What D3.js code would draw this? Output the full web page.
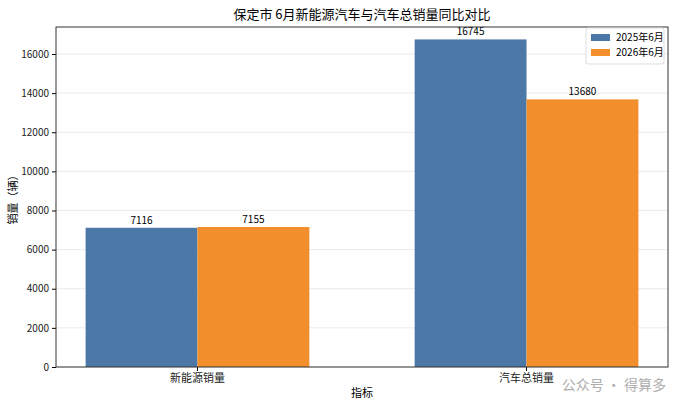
<!DOCTYPE html><html><head><meta charset="utf-8"><script src="https://cdn.jsdelivr.net/npm/d3@7"></script>
<style>body{margin:0;background:#fff}text{font-family:"Noto Sans CJK SC","DejaVu Sans",sans-serif}</style></head><body>
<svg id="c" width="680" height="405"></svg>
<script>
const categories=["新能源销量","汽车总销量"];
const series=["2025年6月","2026年6月"];
const values2025=[7116,16745];
const values2026=[7155,13680];
const yTicks=[0,2000,4000,6000,8000,10000,12000,14000,16000];
const colors=["#4c78a8","#f28e2b"];
const svg=d3.select("#c");
const m={l:56,r:668,t:27,b:367};
const x=d3.scaleBand().domain(categories).range([m.l,m.r]).paddingInner(0.32).paddingOuter(0.09);
const xs=d3.scaleBand().domain(series).range([0,x.bandwidth()]);
const y=d3.scaleLinear().domain([0,17380]).range([m.b,m.t]);
svg.append("g").selectAll("line").data(yTicks).join("line").attr("x1",m.l).attr("x2",m.r).attr("y1",d=>y(d)).attr("y2",d=>y(d)).attr("stroke","#ebebeb");
const data=[values2025,values2026];
series.forEach((s,i)=>{
 const g=svg.append("g");
 g.selectAll("rect").data(categories).join("rect").attr("x",c=>x(c)+xs(s)).attr("width",xs.bandwidth()).attr("y",(c,j)=>y(data[i][j])).attr("height",(c,j)=>m.b-y(data[i][j])).attr("fill",colors[i]);
 g.selectAll("text").data(categories).join("text").attr("x",c=>x(c)+xs(s)+xs.bandwidth()/2).attr("y",(c,j)=>y(data[i][j])-4).attr("text-anchor","middle").attr("font-size",10).text((c,j)=>data[i][j]);
});
svg.append("g").attr("transform",`translate(0,${m.b})`).call(d3.axisBottom(x).tickSize(4)).call(g=>g.selectAll("text").attr("font-size",11).attr("fill","#222"));
svg.append("g").attr("transform",`translate(${m.l},0)`).call(d3.axisLeft(y).tickValues(yTicks).tickFormat(d3.format("d")).tickSize(4)).call(g=>g.selectAll("text").attr("font-size",10).attr("fill","#222"));
svg.append("rect").attr("x",m.l).attr("y",m.t).attr("width",m.r-m.l).attr("height",m.b-m.t).attr("fill","none").attr("stroke","#333");
svg.selectAll(".domain").remove();
svg.append("text").attr("x",(m.l+m.r)/2).attr("y",19).attr("text-anchor","middle").attr("font-size",13).text("保定市 6月新能源汽车与汽车总销量同比对比");
svg.append("text").attr("x",(m.l+m.r)/2).attr("y",397).attr("text-anchor","middle").attr("font-size",11).text("指标");
svg.append("text").attr("transform",`translate(17,${(m.t+m.b)/2}) rotate(-90)`).attr("text-anchor","middle").attr("font-size",11).text("销量（辆）");
const lg=svg.append("g").attr("transform","translate(586,28)");
lg.append("rect").attr("width",78).attr("height",36).attr("fill","#fff").attr("stroke","#ddd").attr("rx",2);
series.forEach((s,i)=>{lg.append("rect").attr("x",5).attr("y",6+i*15).attr("width",19).attr("height",7).attr("fill",colors[i]);
 lg.append("text").attr("x",30).attr("y",13+i*15).attr("font-size",10).text(s);});
svg.append("text").attr("x",666).attr("y",390).attr("text-anchor","end").attr("font-size",14).attr("fill","#999").attr("opacity",0.8).text("公众号 · 得算多");
</script></body></html>
